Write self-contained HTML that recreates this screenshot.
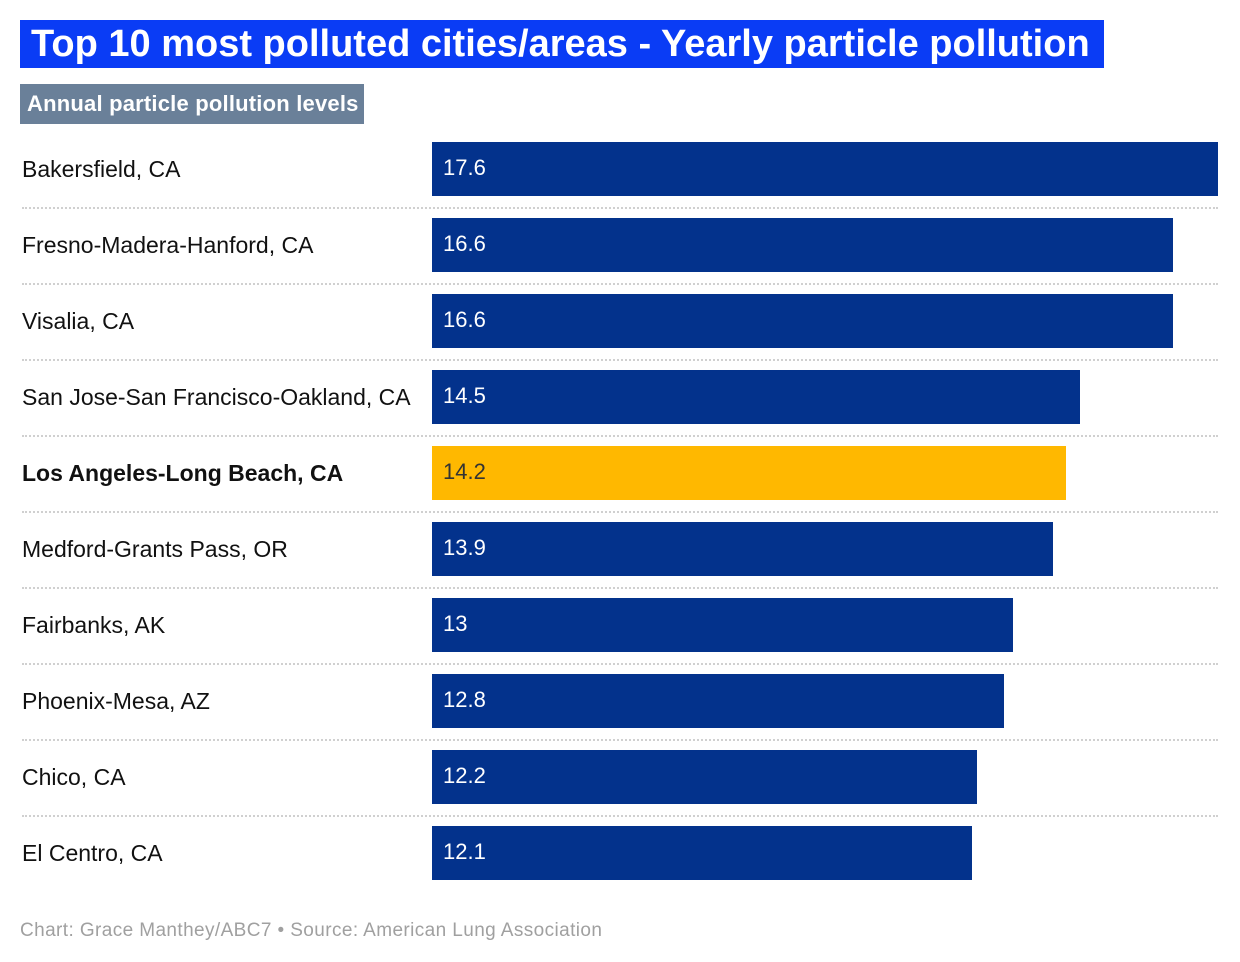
<!DOCTYPE html>
<html><head><meta charset="utf-8"><style>
body{margin:0;background:#fff;font-family:"Liberation Sans",Arial,sans-serif;}
#wrap{position:relative;width:1240px;height:962px;overflow:hidden;}
.title{position:absolute;left:20px;top:20px;width:1084px;height:48px;background:#0a3cf5;color:#fff;font-weight:bold;font-size:38px;letter-spacing:0px;line-height:48px;box-sizing:border-box;padding-left:11px;white-space:nowrap;overflow:hidden;}
.sub{position:absolute;left:20px;top:84px;width:344px;height:40px;background:#6a8099;color:#fff;font-weight:bold;font-size:22px;letter-spacing:0.2px;line-height:40px;box-sizing:border-box;padding-left:7px;white-space:nowrap;}
.foot{position:absolute;left:20px;top:920px;color:#a0a0a0;font-size:19px;letter-spacing:0.4px;}
.lbl{position:absolute;left:22px;font-size:23px;color:#111;white-space:nowrap;}
.bar{position:absolute;left:432px;height:54px;}
.val{position:absolute;left:443px;font-size:22px;color:#fff;}
.sep{position:absolute;left:22px;width:1196px;height:0;border-top:2px dotted #d0d0d0;}
</style></head><body>
<div id="wrap">
<div class="title">Top 10 most polluted cities/areas - Yearly particle pollution</div>
<div class="sub">Annual particle pollution levels</div>
<div id="rows"></div>
<div class="foot">Chart: Grace Manthey/ABC7 • Source: American Lung Association</div>
</div>
<script>
const categories=["Bakersfield, CA","Fresno-Madera-Hanford, CA","Visalia, CA","San Jose-San Francisco-Oakland, CA","Los Angeles-Long Beach, CA","Medford-Grants Pass, OR","Fairbanks, AK","Phoenix-Mesa, AZ","Chico, CA","El Centro, CA"];
const values=[17.6,16.6,16.6,14.5,14.2,13.9,13,12.8,12.2,12.1];
const highlighted=["Los Angeles-Long Beach, CA"];
const maxVal=Math.max(...values);
const xScale=v=>v/maxVal*786;
const rowY=i=>142+i*76;
const c=document.getElementById('rows');
categories.forEach((cat,i)=>{
  const y=rowY(i), hl=highlighted.includes(cat);
  const l=document.createElement('div');l.className='lbl';
  
  
  l.style.top=(y+14)+'px';if(hl)l.style.fontWeight='bold';l.textContent=cat;c.appendChild(l);
  const b=document.createElement('div');b.className='bar';
  
  
  b.style.top=y+'px';b.style.width=xScale(values[i])+'px';b.style.background=hl?'#ffb800':'#03328c';c.appendChild(b);
  const v=document.createElement('div');v.className='val';
  
  
  v.style.top=(y+13)+'px';if(hl)v.style.color='#333';v.textContent=values[i];c.appendChild(v);
  if(i<categories.length-1){const s=document.createElement('div');s.className='sep';
  
  
  s.style.top=(y+65)+'px';c.appendChild(s);}
});
</script>
</body></html>
